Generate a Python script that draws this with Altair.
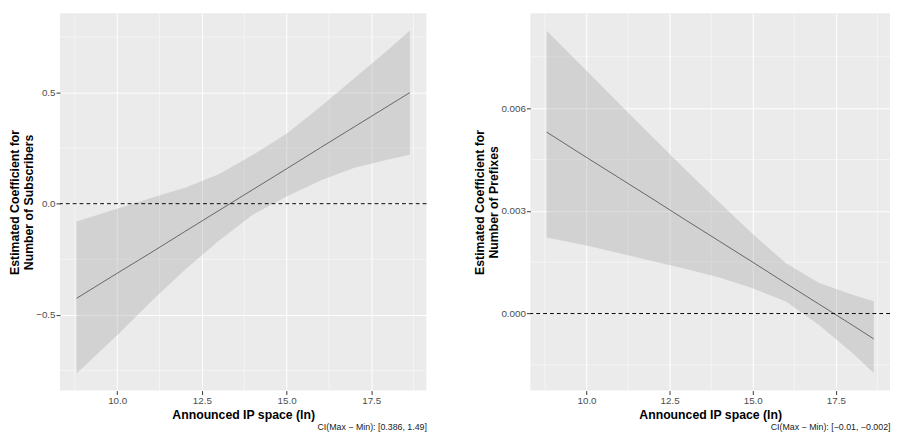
import altair as alt
import pandas as pd

# ---- data ----
x_vals = [8.80, 10.0, 11.0, 12.0, 13.0, 14.0, 15.0, 16.0, 17.0, 18.0, 18.64]

sub_fit = [-0.426, -0.313, -0.220, -0.125, -0.031, 0.063, 0.157, 0.252, 0.346, 0.440, 0.500]
sub_low = [-0.764, -0.592, -0.440, -0.297, -0.167, -0.050, 0.032, 0.104, 0.162, 0.199, 0.220]
sub_high = [-0.080, -0.023, 0.026, 0.072, 0.133, 0.219, 0.315, 0.436, 0.565, 0.693, 0.780]

pre_fit = [0.00530, 0.00456, 0.00395, 0.00334, 0.00272, 0.00211, 0.00150, 0.00088, 0.00027, -0.00034, -0.00074]
pre_low = [0.00222, 0.00199, 0.00176, 0.00153, 0.00130, 0.00105, 0.00074, 0.00035, -0.00034, -0.00115, -0.00174]
pre_high = [0.00826, 0.00709, 0.00611, 0.00514, 0.00418, 0.00324, 0.00232, 0.00147, 0.00089, 0.00055, 0.00036]

x_major = [10.0, 12.5, 15.0, 17.5]
x_minor = [8.75, 11.25, 13.75, 16.25, 18.75]
x_domain = [8.31, 19.13]

sub_y_major = [-0.5, 0.0, 0.5]
sub_y_minor = [-0.75, -0.25, 0.25, 0.75]
sub_y_domain = [-0.841, 0.857]

pre_y_major = [0.0, 0.003, 0.006]
pre_y_minor = [-0.0015, 0.0015, 0.0045, 0.0075]
pre_y_domain = [-0.00225, 0.00877]

ref_line = [0.0]

x_title = "Announced IP space (ln)"
sub_title = ["Estimated Coefficient for", "Number of Subscribers"]
pre_title = ["Estimated Coefficient for", "Number of Prefixes"]
sub_caption = "CI(Max \u2212 Min): [0.386, 1.49]"
pre_caption = "CI(Max \u2212 Min): [\u22120.01, \u22120.002]"

FONT = "Liberation Sans"


def panel(fit, low, high, ymaj, ymin, ydom, yfmt, ytitle, caption, width):
    df = pd.DataFrame({"x": x_vals, "fit": fit, "low": low, "high": high})
    xs = alt.Scale(domain=x_domain, nice=False, zero=False)
    ys = alt.Scale(domain=ydom, nice=False, zero=False)
    xaxis = alt.Axis(values=x_major, format=".1f", title=x_title, titlePadding=4)
    yaxis = alt.Axis(values=ymaj, format=yfmt, title=ytitle, titlePadding=0)

    minor_x = alt.Chart(pd.DataFrame({"x": x_minor})).mark_rule(
        color="white", strokeWidth=0.5
    ).encode(x=alt.X("x:Q", scale=xs, axis=xaxis))
    minor_y = alt.Chart(pd.DataFrame({"y": ymin})).mark_rule(
        color="white", strokeWidth=0.5
    ).encode(y=alt.Y("y:Q", scale=ys, axis=yaxis))
    band = alt.Chart(df).mark_area(color="#999999", opacity=0.3).encode(
        x=alt.X("x:Q", scale=xs, axis=xaxis),
        y=alt.Y("low:Q", scale=ys, axis=yaxis),
        y2="high:Q",
    )
    line = alt.Chart(df).mark_line(color="#404040", strokeWidth=0.75).encode(
        x=alt.X("x:Q", scale=xs, axis=xaxis),
        y=alt.Y("fit:Q", scale=ys, axis=yaxis),
    )
    zero = alt.Chart(pd.DataFrame({"y": ref_line})).mark_rule(
        color="black", strokeDash=[4, 3], strokeWidth=1
    ).encode(y=alt.Y("y:Q", scale=ys, axis=yaxis))

    return alt.layer(minor_x, minor_y, band, line, zero).properties(
        width=width,
        height=385,
        title=alt.TitleParams(
            text=caption, orient="bottom", anchor="end", fontSize=9,
            fontWeight="normal", color="#222222", font=FONT, offset=2,
        ),
    )


left = panel(sub_fit, sub_low, sub_high, sub_y_major, sub_y_minor, sub_y_domain,
             ".1f", sub_title, sub_caption, 374)
right = panel(pre_fit, pre_low, pre_high, pre_y_major, pre_y_minor, pre_y_domain,
              ".3f", pre_title, pre_caption, 367)

chart = alt.hconcat(left, right, spacing=47).properties(padding=0).configure_view(
    fill="#EBEBEB", stroke=None
).configure_axis(
    domain=False,
    grid=True,
    gridColor="white",
    gridWidth=1,
    tickColor="#333333",
    tickSize=4,
    tickWidth=1,
    labelColor="#4D4D4D",
    labelFontSize=10,
    labelFont=FONT,
    labelPadding=1,
    titleFont=FONT,
    titleFontSize=12.5,
    titleFontWeight="bold",
    titleColor="black",
    titleLineHeight=14.5,
)

chart.save("out.html", embed_options={"renderer": "svg", "actions": False})
